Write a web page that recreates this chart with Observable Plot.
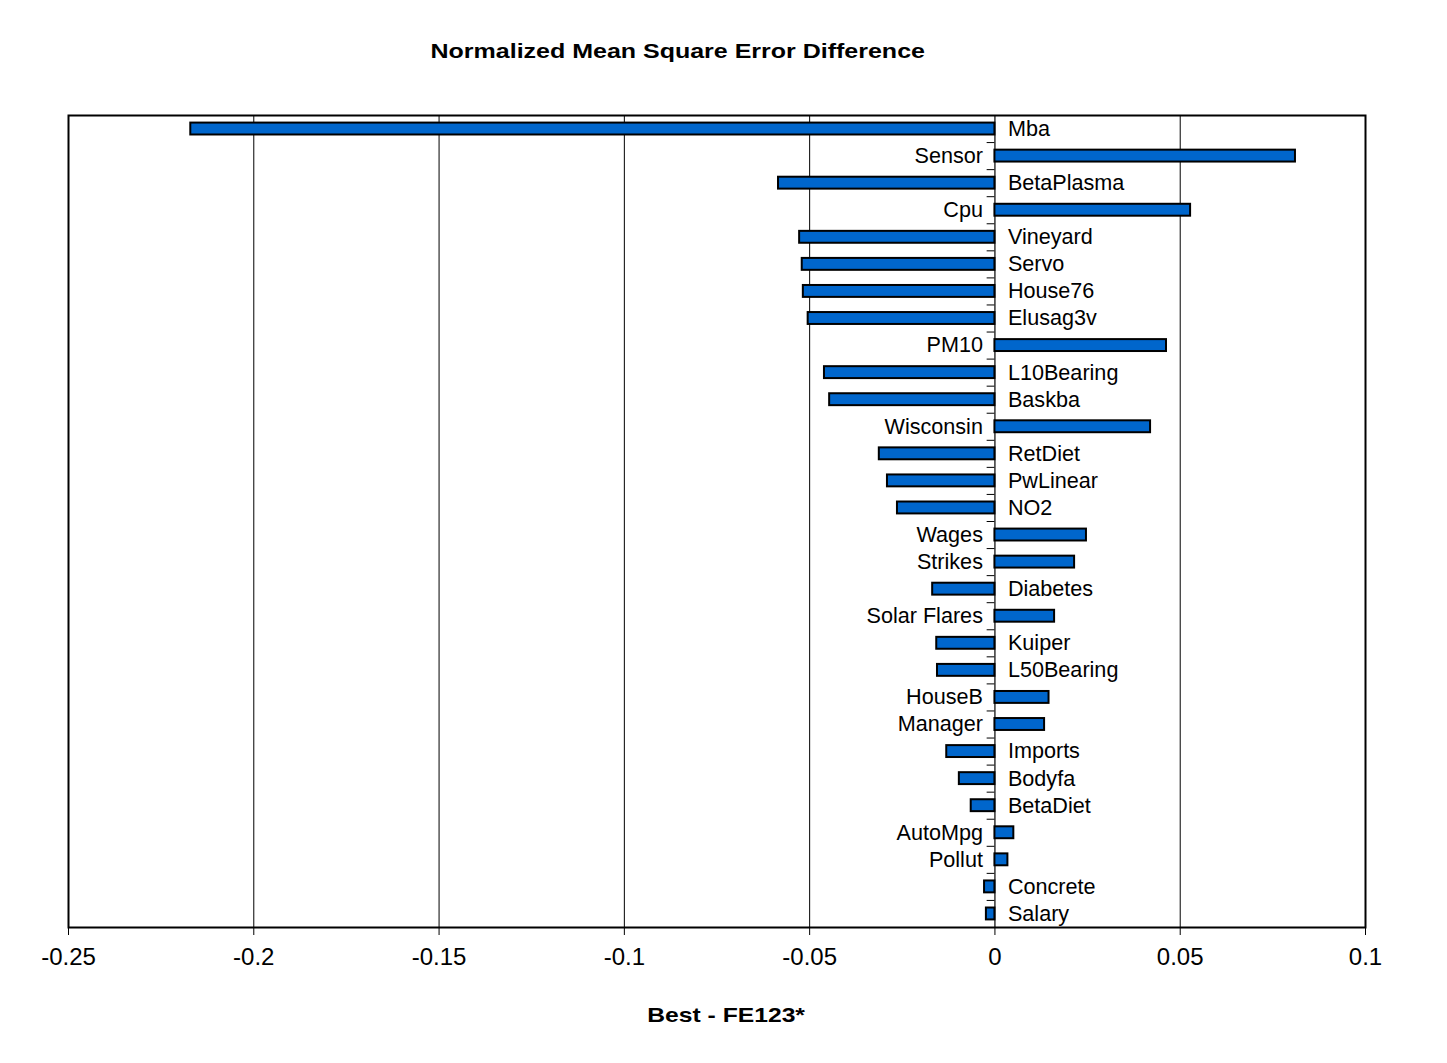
<!DOCTYPE html>
<html>
<head>
<meta charset="utf-8">
<script src="https://cdn.jsdelivr.net/npm/d3@7"></script>
<script src="https://cdn.jsdelivr.net/npm/@observablehq/plot@0.6"></script>
<style>
  html, body { margin: 0; padding: 0; background: #fff; }
  #wrap { position: relative; width: 1447px; height: 1063px; font-family: "Liberation Sans", Arial, sans-serif; }
  #title { position: absolute; left: 0; width: 1355px; top: 38px; text-align: center; font-weight: bold; font-size: 21px; line-height: 26px; color: #000; }
  #xlabel { position: absolute; left: 0; width: 1453px; top: 1002px; text-align: center; font-weight: bold; font-size: 21px; line-height: 26px; color: #000; }
  #title span { display: inline-block; transform: scaleX(1.19); transform-origin: center; }
  #xlabel span { display: inline-block; transform: scaleX(1.175); transform-origin: center; }
  #chart { position: absolute; left: 0; top: 0; }
</style>
</head>
<body>
<div id="wrap">
  <div id="chart"></div>
  <div id="title"><span>Normalized Mean Square Error Difference</span></div>
  <div id="xlabel"><span>Best - FE123*</span></div>
</div>
<script>
const categories = ["Mba","Sensor","BetaPlasma","Cpu","Vineyard","Servo","House76","Elusag3v","PM10","L10Bearing","Baskba","Wisconsin","RetDiet","PwLinear","NO2","Wages","Strikes","Diabetes","Solar Flares","Kuiper","L50Bearing","HouseB","Manager","Imports","Bodyfa","BetaDiet","AutoMpg","Pollut","Concrete","Salary"];
const values = [-0.217,0.0811,-0.0584,0.0528,-0.0527,-0.0520,-0.0517,-0.0504,0.0463,-0.0460,-0.0446,0.0420,-0.0312,-0.0290,-0.0263,0.0247,0.0215,-0.0168,0.0161,-0.0157,-0.0155,0.0146,0.0134,-0.0130,-0.0096,-0.0064,0.0051,0.0035,-0.0028,-0.0023];
const xTickValues = [-0.25,-0.2,-0.15,-0.1,-0.05,0,0.05,0.1];
const xTickLabels = ["-0.25","-0.2","-0.15","-0.1","-0.05","0","0.05","0.1"];
const gridValues = [-0.2,-0.15,-0.1,-0.05,0.05];

const data = categories.map((c, i) => ({name: c, value: values[i]}));

const W = 1447, H = 1063;
const mTop = 115, mBottom = 136, mLeft = 68, mRight = 82;
const step = (H - mTop - mBottom) / categories.length;

const chart = Plot.plot({
  width: W,
  height: H,
  marginTop: mTop,
  marginBottom: mBottom,
  marginLeft: mLeft,
  marginRight: mRight,
  style: {fontFamily: "'Liberation Sans', Arial, sans-serif", background: "#fff", color: "#000"},
  x: {domain: [-0.25, 0.1], label: null},
  y: {domain: categories, paddingInner: 0.56, paddingOuter: 0.28, round: false, axis: null, label: null},
  marks: [
    Plot.ruleX(gridValues, {stroke: "#000", strokeWidth: 1}),
    Plot.ruleX([0], {stroke: "#000", strokeWidth: 1.2}),
    Plot.ruleY(categories.slice(0, -1), {y: d => d, x1: -0.0021, x2: 0, dy: step / 2, stroke: "#000", strokeWidth: 1}),
    Plot.barX(data, {y: "name", x: "value", fill: "#0066CC", stroke: "#000", strokeWidth: 2}),
    Plot.text(data.filter(d => d.value < 0), {y: "name", x: 0, text: "name", textAnchor: "start", dx: 13, fontSize: 21.6, fill: "#000"}),
    Plot.text(data.filter(d => d.value >= 0), {y: "name", x: 0, text: "name", textAnchor: "end", dx: -12, fontSize: 21.6, fill: "#000"}),
    Plot.frame({stroke: "#000", strokeWidth: 2}),
    Plot.axisX({ticks: xTickValues, tickFormat: (d) => xTickLabels[xTickValues.indexOf(d)], tickSize: 8, tickPadding: 12, fontSize: 24, label: null, stroke: "#000"})
  ]
});
document.getElementById("chart").appendChild(chart);
</script>
</body>
</html>
